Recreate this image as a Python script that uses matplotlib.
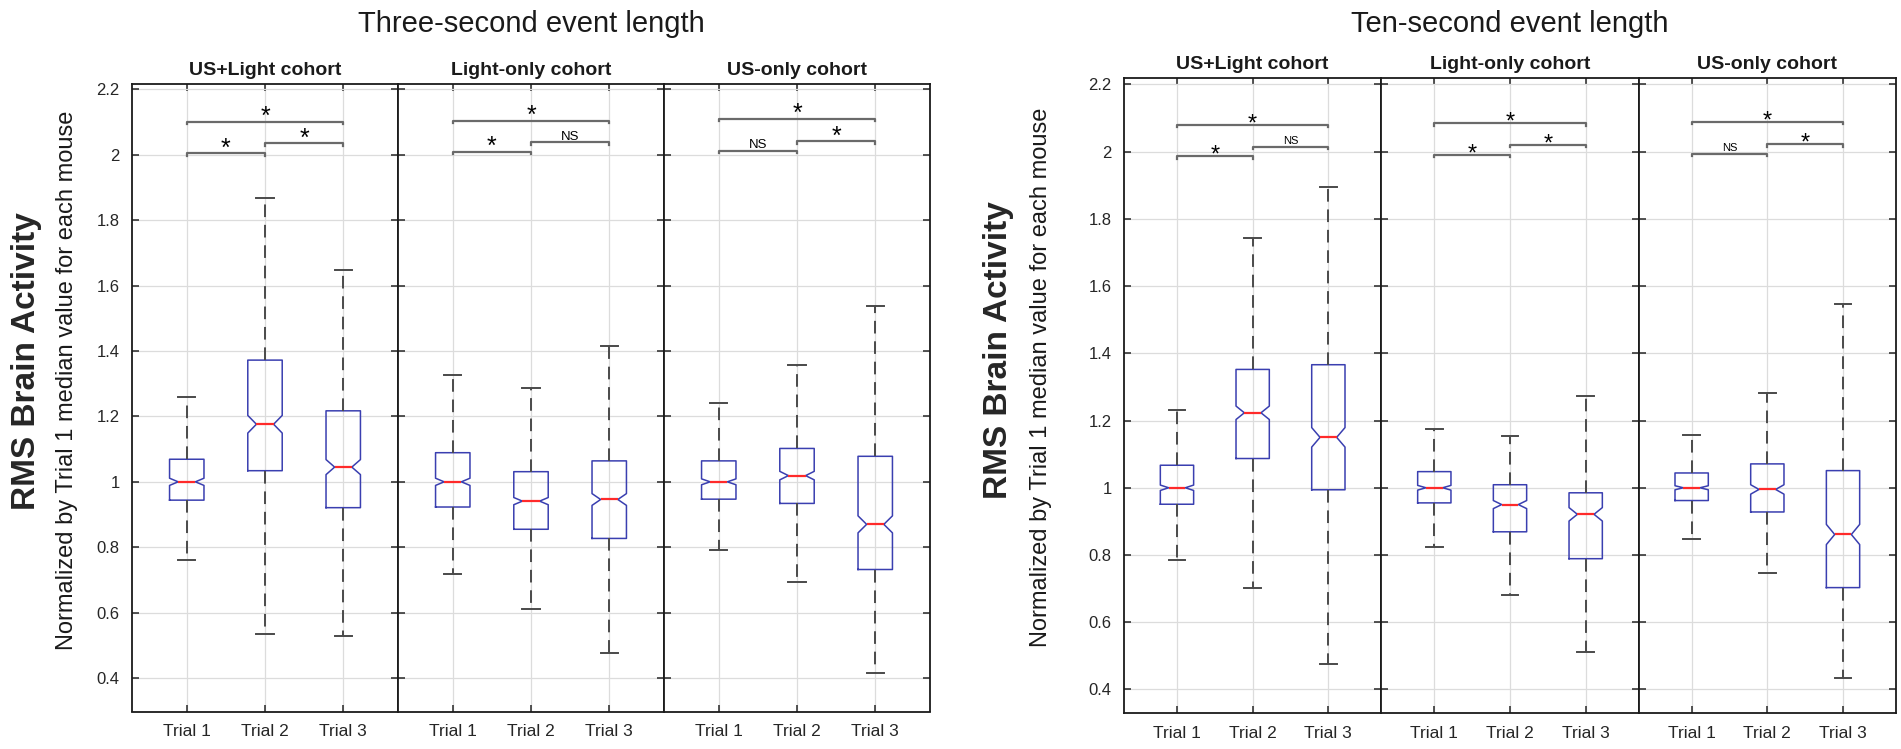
import numpy as np
import matplotlib
matplotlib.use("Agg")
import matplotlib.pyplot as plt

plt.rcParams['font.family'] = ['Liberation Sans', 'DejaVu Sans']

# Data (values normalized by Trial 1 median)
cohorts = ['US+Light cohort', 'Light-only cohort', 'US-only cohort']
trials = ['Trial 1', 'Trial 2', 'Trial 3']
yticks = [0.4, 0.6, 0.8, 1.0, 1.2, 1.4, 1.6, 1.8, 2.0, 2.2]
ytick_labels = ['0.4', '0.6', '0.8', '1', '1.2', '1.4', '1.6', '1.8', '2', '2.2']

# three-second event length, order: cohort by cohort, trial 1..3
three_med = [1.000, 1.176, 1.045, 1.000, 0.941, 0.946, 1.000, 1.019, 0.870]
three_q1 = [0.944, 1.034, 0.921, 0.923, 0.855, 0.827, 0.947, 0.934, 0.732]
three_q3 = [1.069, 1.372, 1.217, 1.089, 1.031, 1.064, 1.064, 1.102, 1.078]
three_wlo = [0.760, 0.536, 0.530, 0.717, 0.611, 0.476, 0.792, 0.694, 0.416]
three_whi = [1.259, 1.867, 1.646, 1.325, 1.287, 1.416, 1.240, 1.356, 1.537]
three_notch = [0.011, 0.027, 0.023, 0.011, 0.011, 0.018, 0.009, 0.013, 0.026]

# ten-second event length
ten_med = [1.000, 1.223, 1.150, 1.000, 0.950, 0.921, 1.000, 0.995, 0.861]
ten_q1 = [0.951, 1.087, 0.994, 0.955, 0.869, 0.789, 0.962, 0.928, 0.703]
ten_q3 = [1.067, 1.352, 1.366, 1.048, 1.009, 0.985, 1.044, 1.071, 1.051]
ten_wlo = [0.784, 0.703, 0.475, 0.825, 0.680, 0.512, 0.847, 0.745, 0.433]
ten_whi = [1.231, 1.743, 1.895, 1.176, 1.153, 1.273, 1.158, 1.282, 1.547]
ten_notch = [0.008, 0.020, 0.029, 0.007, 0.012, 0.020, 0.006, 0.014, 0.030]

# significance brackets: (from, to, height, label) per cohort
three_sig = [
    [(1, 3, 2.101, '*'), (1, 2, 2.004, '*'), (2, 3, 2.035, '*')],
    [(1, 3, 2.104, '*'), (1, 2, 2.009, '*'), (2, 3, 2.038, 'NS')],
    [(1, 3, 2.110, '*'), (1, 2, 2.012, 'NS'), (2, 3, 2.042, '*')],
]
ten_sig = [
    [(1, 3, 2.080, '*'), (1, 2, 1.986, '*'), (2, 3, 2.015, 'NS')],
    [(1, 3, 2.085, '*'), (1, 2, 1.991, '*'), (2, 3, 2.021, '*')],
    [(1, 3, 2.089, '*'), (1, 2, 1.994, 'NS'), (2, 3, 2.023, '*')],
]

W, H = 1901, 749
fig = plt.figure(figsize=(W / 100, H / 100), dpi=100)

box_col = '#3a3fb0'
whisk_col = '#4a4a4a'


def draw_group(x0, x1, top, bottom, ylim, med, q1, q3, wlo, whi, notch, sig,
               title, title_base, coh_base, star_fs, ns_fs, star_off,
               rms_xy, norm_xy):
    pw = (x1 - x0) / 3
    for c in range(3):
        ax = fig.add_axes([(x0 + c * pw) / W, 1 - bottom / H, pw / W, (bottom - top) / H])
        stats = []
        for t in range(3):
            i = c * 3 + t
            stats.append(dict(med=med[i], q1=q1[i], q3=q3[i], whislo=wlo[i], whishi=whi[i],
                              cilo=med[i] - notch[i], cihi=med[i] + notch[i], fliers=[]))
        ax.bxp(stats, positions=[1, 2, 3], widths=0.44, shownotches=True, showfliers=False,
               boxprops=dict(color=box_col, linewidth=1.1),
               medianprops=dict(color='#ff2a2a', linewidth=1.6),
               whiskerprops=dict(color=whisk_col, linewidth=1.4, linestyle=(0, (6.5, 4))),
               capprops=dict(color=whisk_col, linewidth=1.4))
        ax.set_xlim(0.3, 3.7)
        ax.set_ylim(*ylim)
        ax.set_xticks([1, 2, 3])
        ax.set_xticklabels(trials, fontsize=12.5)
        ax.set_yticks(yticks)
        if c == 0:
            ax.set_yticklabels(ytick_labels, fontsize=12, color='#262626')
        else:
            ax.set_yticklabels([])
        ax.grid(True, color='#dcdcdc', linewidth=0.9)
        ax.set_axisbelow(True)
        ax.tick_params(direction='in', length=5, width=1.1, top=True, right=True,
                       pad=9, colors='#262626')
        for s in ax.spines.values():
            s.set_linewidth(1.3)
            s.set_color('#1a1a1a')
        for a, b, y, lab in sig[c]:
            ax.plot([a, a, b, b], [y - 0.008, y, y, y - 0.008], color='#6a6a6a', lw=1.6)
            if lab == '*':
                ax.text((a + b) / 2, y + star_off, lab, ha='center', va='baseline',
                        fontsize=star_fs)
            else:
                ax.text((a + b) / 2, y + 0.008, lab, ha='center', va='baseline',
                        fontsize=ns_fs)
        fig.text((x0 + (c + 0.5) * pw) / W, 1 - coh_base / H, cohorts[c], ha='center',
                 va='baseline', fontsize=14, fontweight='bold', color='#1a1a1a')
    fig.text(((x0 + x1) / 2) / W, 1 - title_base / H, title, ha='center', va='baseline',
             fontsize=21, color='#1a1a1a')
    fig.text(rms_xy[0] / W, 1 - rms_xy[1] / H, 'RMS Brain Activity', rotation=90,
             ha='center', va='center', fontsize=24, fontweight='bold', color='#262626')
    fig.text(norm_xy[0] / W, 1 - norm_xy[1] / H,
             'Normalized by Trial 1 median value for each mouse',
             rotation=90, ha='center', va='center', fontsize=17, color='#1a1a1a')


draw_group(132, 930, 84.3, 711.5, (0.298, 2.215), three_med, three_q1, three_q3,
           three_wlo, three_whi, three_notch, three_sig,
           'Three-second event length', 31.5, 75, 18, 9.5, -0.008,
           (27, 361), (67, 380))
draw_group(1124, 1896, 78.3, 713, (0.33, 2.218), ten_med, ten_q1, ten_q3,
           ten_wlo, ten_whi, ten_notch, ten_sig,
           'Ten-second event length', 31.5, 69, 17, 8, -0.017,
           (999, 350), (1041, 377))

fig.savefig('out.png', dpi=100)
